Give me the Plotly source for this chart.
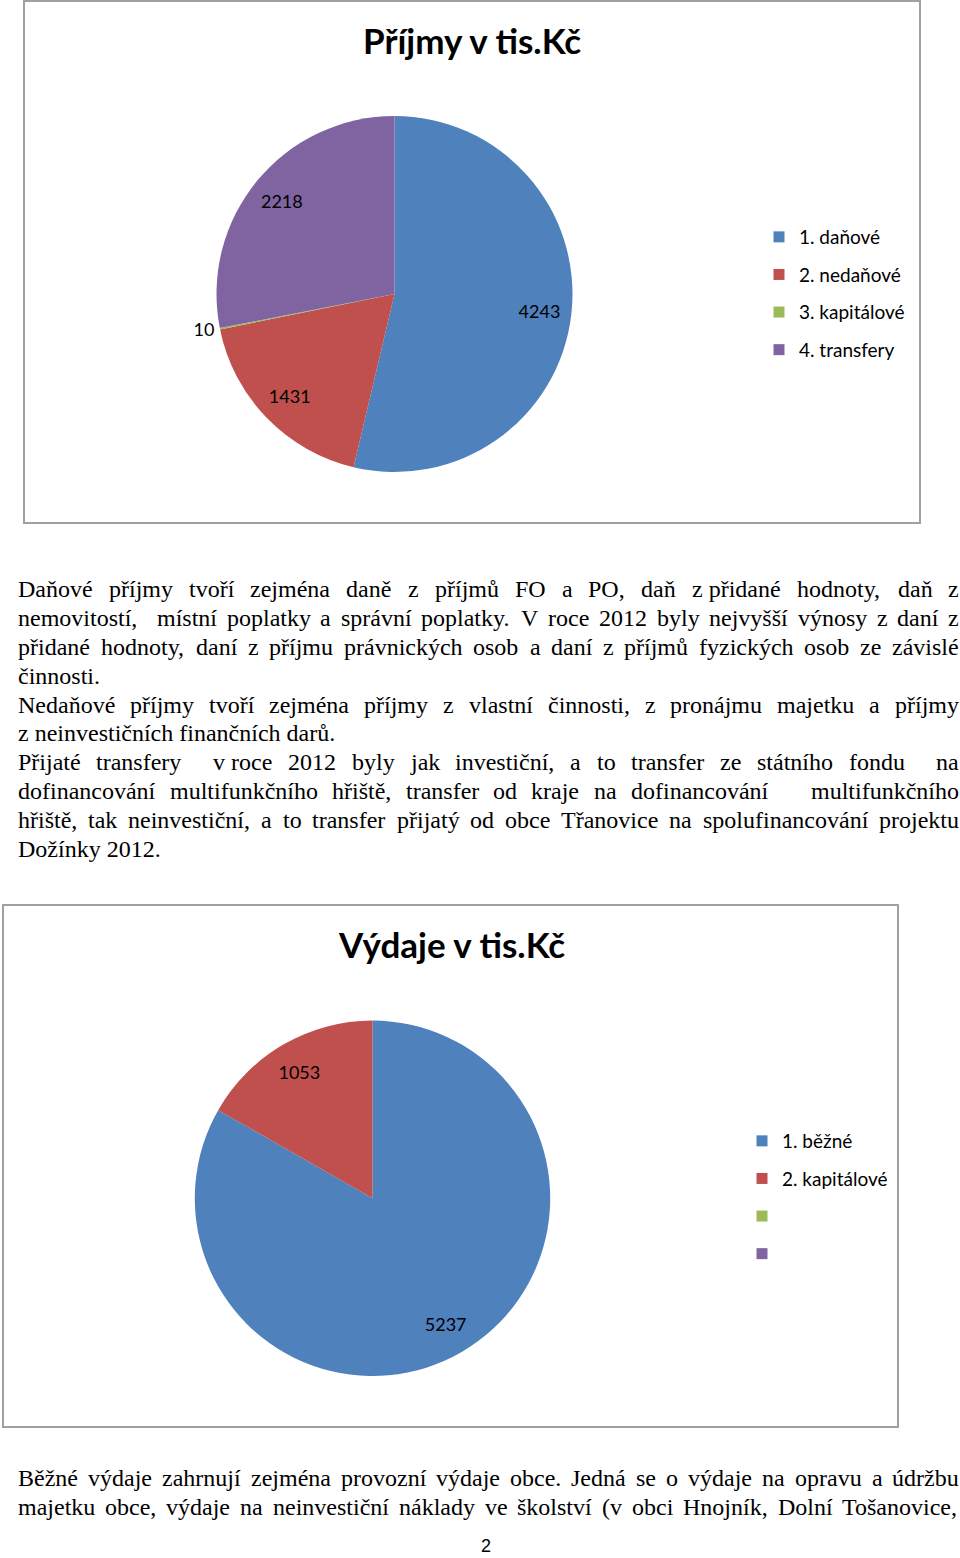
import unicodedata
import plotly.graph_objects as go

W, H = 960, 1558

# ---------------- data ----------------
inc_title = "Příjmy v tis.Kč"
inc_labels = ["1. daňové", "2. nedaňové", "3. kapitálové", "4. transfery"]
inc_values = [4243, 1431, 10, 2218]

exp_title = "Výdaje v tis.Kč"
exp_labels = ["1. běžné", "2. kapitálové", "", " "]
exp_values = [5237, 1053]

colors = ["#4F81BD", "#C0504D", "#9BBB59", "#8064A2"]

para1 = [
    ("Daňové příjmy tvoří zejména daně z příjmů FO a PO, daň z\u00a0přidané hodnoty, daň z", True),
    ("nemovitostí,  místní poplatky a správní poplatky. V roce 2012 byly nejvyšší výnosy z daní z", True),
    ("přidané hodnoty, daní z příjmu právnických osob a daní z příjmů fyzických osob ze závislé", True),
    ("činnosti.", False),
    ("Nedaňové příjmy tvoří zejména příjmy z vlastní činnosti, z pronájmu majetku a příjmy", True),
    ("z\u00a0neinvestičních finančních darů.", False),
    ("Přijaté transfery  v\u00a0roce 2012 byly jak investiční, a to transfer ze státního fondu  na", True),
    ("dofinancování multifunkčního hřiště, transfer od kraje na dofinancování   multifunkčního", True),
    ("hřiště, tak neinvestiční, a to transfer přijatý od obce Třanovice na spolufinancování projektu", True),
    ("Dožínky 2012.", False),
]
para2 = [
    ("Běžné výdaje zahrnují zejména provozní výdaje obce. Jedná se o výdaje na opravu a údržbu", True),
    ("majetku obce, výdaje na neinvestiční náklady ve školství (v obci Hnojník, Dolní Tošanovice,", True),
]
page_number = "2"

# ---------------- helpers ----------------
def px(x):
    return x / W

def py(y):
    return 1 - y / H

# Times / Liberation Serif advance widths (per 1000 em)
TW = {' ': 250, '\u00a0': 250, ',': 250, '.': 250, '(': 333, ')': 333, '-': 333, ':': 278, ';': 278}
for c in '0123456789':
    TW[c] = 500
TW.update(dict(zip("ABCDEFGHIJKLMNOPQRSTUVWXYZ",
                   [722, 667, 667, 722, 611, 556, 722, 722, 333, 389, 722, 611, 889,
                    722, 722, 556, 722, 667, 556, 611, 722, 722, 944, 722, 722, 611])))
TW.update(dict(zip("abcdefghijklmnopqrstuvwxyz",
                   [444, 500, 444, 500, 444, 333, 500, 500, 278, 278, 500, 278, 778,
                    500, 500, 500, 500, 333, 389, 278, 500, 500, 722, 500, 500, 444])))

def tw(s, size):
    tot = 0
    for ch in s:
        b = unicodedata.normalize('NFD', ch)[0]
        tot += TW.get(b, 500)
    return tot * size / 1000.0

BODY_FONT = dict(family="Liberation Serif, Times New Roman, serif", size=24, color="black")
LEFT, RIGHT = 16, 957

annotations = []

def add_line(text, y, justify):
    size = BODY_FONT["size"]
    if not justify:
        annotations.append(dict(text=text, x=px(LEFT), y=py(y), xref="paper", yref="paper",
                                xanchor="left", yanchor="middle", showarrow=False, font=BODY_FONT))
        return
    tokens = text.split(" ")
    nspaces = len(tokens) - 1
    words_w = sum(tw(t, size) for t in tokens)
    gap = (RIGHT - LEFT - words_w) / nspaces
    x = LEFT
    for t in tokens:
        if t:
            annotations.append(dict(text=t, x=px(x), y=py(y), xref="paper", yref="paper",
                                    xanchor="left", yanchor="middle", showarrow=False,
                                    font=BODY_FONT))
        x += tw(t, size) + gap

for i, (t, j) in enumerate(para1):
    add_line(t, 589.5 + i * 28.8, j)
for i, (t, j) in enumerate(para2):
    add_line(t, 1478 + i * 28.8, j)

annotations.append(dict(text=page_number, x=px(486), y=0, xref="paper", yref="paper",
                        xanchor="center", yanchor="bottom", showarrow=False,
                        font=dict(family="Liberation Sans, Arial", size=18, color="black")))

TITLE_FONT = dict(family="Lato, Open Sans, sans-serif", size=35, color="black")
annotations.append(dict(text="<b>%s</b>" % inc_title, x=px(472), y=py(40), xref="paper", yref="paper",
                        xanchor="center", yanchor="middle", showarrow=False, font=TITLE_FONT))
annotations.append(dict(text="<b>%s</b>" % exp_title, x=px(451), y=py(944), xref="paper", yref="paper",
                        xanchor="center", yanchor="middle", showarrow=False, font=TITLE_FONT))

fig = go.Figure()

LABEL_FONT = dict(family="Lato, Open Sans, sans-serif", size=18, color="black")

def pie_domain(cx, cy, r):
    return dict(x=[px(cx - r), px(cx + r)], y=[py(cy + r), py(cy - r)])

def add_pie(labels, values, cols, dom, textpos):
    # coloured slices
    fig.add_trace(go.Pie(
        labels=labels, values=values, sort=False, direction="clockwise", rotation=0,
        marker=dict(colors=cols, line=dict(width=0)), textinfo="none",
        domain=dom, showlegend=False, hoverinfo="label+value",
    ))
    # transparent ring carrying the value labels (places them near the rim, as Excel does)
    fig.add_trace(go.Pie(
        labels=labels, values=values, sort=False, direction="clockwise", rotation=0, hole=0.64,
        marker=dict(colors=["rgba(0,0,0,0)"] * len(values), line=dict(width=0)),
        textinfo="value", textposition=textpos, insidetextorientation="horizontal",
        textfont=LABEL_FONT, domain=dom, showlegend=False, hoverinfo="skip",
    ))

add_pie(inc_labels, inc_values, colors, pie_domain(394.5, 294, 178),
        ["inside", "inside", "outside", "inside"])
add_pie(exp_labels[:2], exp_values, colors[:2], pie_domain(372.5, 1198.3, 177.7), "inside")

# legend entries
for i, (name, c) in enumerate(zip(inc_labels, colors)):
    fig.add_trace(go.Scatter(x=[None], y=[None], mode="markers", name=name,
                             marker=dict(symbol="square", size=11, color=c),
                             legend="legend", legendgroup="a%d" % i, showlegend=True))
for i, (name, c) in enumerate(zip(exp_labels, colors)):
    fig.add_trace(go.Scatter(x=[None], y=[None], mode="markers", name=name,
                             marker=dict(symbol="square", size=11, color=c),
                             legend="legend2", legendgroup="b%d" % i, showlegend=True))

LEG_FONT = dict(family="Lato, Open Sans, sans-serif", size=19, color="black")
shapes = [
    dict(type="rect", xref="paper", yref="paper", x0=px(24), x1=px(920), y0=py(523), y1=py(1),
         line=dict(color="#A0A0A0", width=2)),
    dict(type="rect", xref="paper", yref="paper", x0=px(3), x1=px(898), y0=py(1427), y1=py(905),
         line=dict(color="#A0A0A0", width=2)),
]

fig.update_layout(
    width=W, height=H, margin=dict(l=0, r=0, t=0, b=0),
    paper_bgcolor="white", plot_bgcolor="white",
    xaxis=dict(visible=False), yaxis=dict(visible=False),
    annotations=annotations, shapes=shapes,
    legend=dict(x=px(759), y=py(218), xanchor="left", yanchor="top", font=LEG_FONT,
                tracegroupgap=9.9, bgcolor="rgba(0,0,0,0)"),
    legend2=dict(x=px(742), y=py(1122), xanchor="left", yanchor="top", font=LEG_FONT,
                 tracegroupgap=9.9, bgcolor="rgba(0,0,0,0)"),
)

fig.write_html("out.html")
